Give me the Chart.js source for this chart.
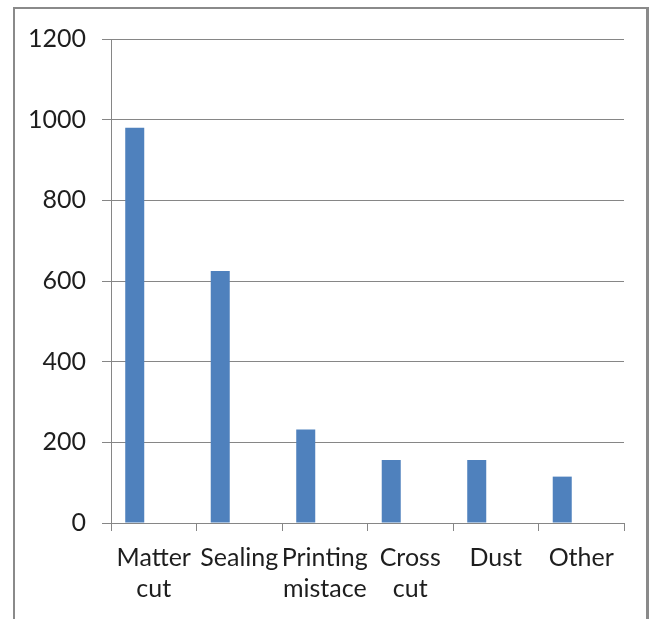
<!DOCTYPE html>
<html>
<head>
<meta charset="utf-8">
<script src="https://cdn.jsdelivr.net/npm/chart.js@4"></script>
<style>
  html, body { margin: 0; padding: 0; background: #ffffff; overflow: hidden; }
  #wrap { position: relative; width: 658px; height: 619px; }
  #frame {
    position: absolute; left: 13px; top: 7px; width: 636px; height: 640px;
    border: 2px solid #8a8a8a; border-right-width: 3px; box-sizing: border-box;
  }
  canvas { position: absolute; left: 0; top: 0; }
</style>
</head>
<body>
<div id="wrap">
  <div id="frame"></div>
  <canvas id="c" width="658" height="619"></canvas>
</div>
<script>
// Defect categories and their counts
const categories = [["Matter", "cut"], "Sealing", ["Printing", "mistace"], ["Cross", "cut"], "Dust", "Other"];
const defectCounts = [980, 625, 232, 156, 156, 115];
// The sheet's second and third series hold no values
const series2 = [null, null, null, null, null, null];
const series3 = [null, null, null, null, null, null];
const yTicks = [0, 200, 400, 600, 800, 1000, 1200];

const gridColor = '#868686';
const textColor = '#1e1e1e';
const font = { family: 'Lato, "Open Sans", sans-serif', size: 25, lineHeight: 1.26 };

new Chart(document.getElementById('c'), {
  type: 'bar',
  data: {
    labels: categories,
    datasets: [
      { label: 'Series1', data: defectCounts, backgroundColor: '#4F81BD' },
      { label: 'Series2', data: series2, backgroundColor: '#C0504D' },
      { label: 'Series3', data: series3, backgroundColor: '#9BBB59' }
    ]
  },
  options: {
    responsive: false,
    animation: false,
    devicePixelRatio: 1,
    layout: { padding: { left: 0, right: 34, top: 39, bottom: 0 } },
    datasets: { bar: { categoryPercentage: 0.667, barPercentage: 1.0 } },
    plugins: { legend: { display: false }, tooltip: { enabled: false } },
    scales: {
      x: {
        grid: { display: true, offset: true, drawOnChartArea: false, color: gridColor, tickLength: 8, tickColor: gridColor },
        border: { color: gridColor },
        ticks: { color: textColor, font: font, autoSkip: false, maxRotation: 0, minRotation: 0, padding: 11 },
        afterFit: (scale) => { scale.height = 96; }
      },
      y: {
        min: 0, max: 1200,
        afterBuildTicks: (scale) => { scale.ticks = yTicks.map(v => ({ value: v })); },
        grid: { color: gridColor, tickLength: 9, tickColor: gridColor },
        border: { color: gridColor },
        ticks: { color: textColor, font: font, padding: 16, callback: (v) => String(v) },
        afterFit: (scale) => { scale.width = 111; }
      }
    }
  }
});
</script>
</body>
</html>
